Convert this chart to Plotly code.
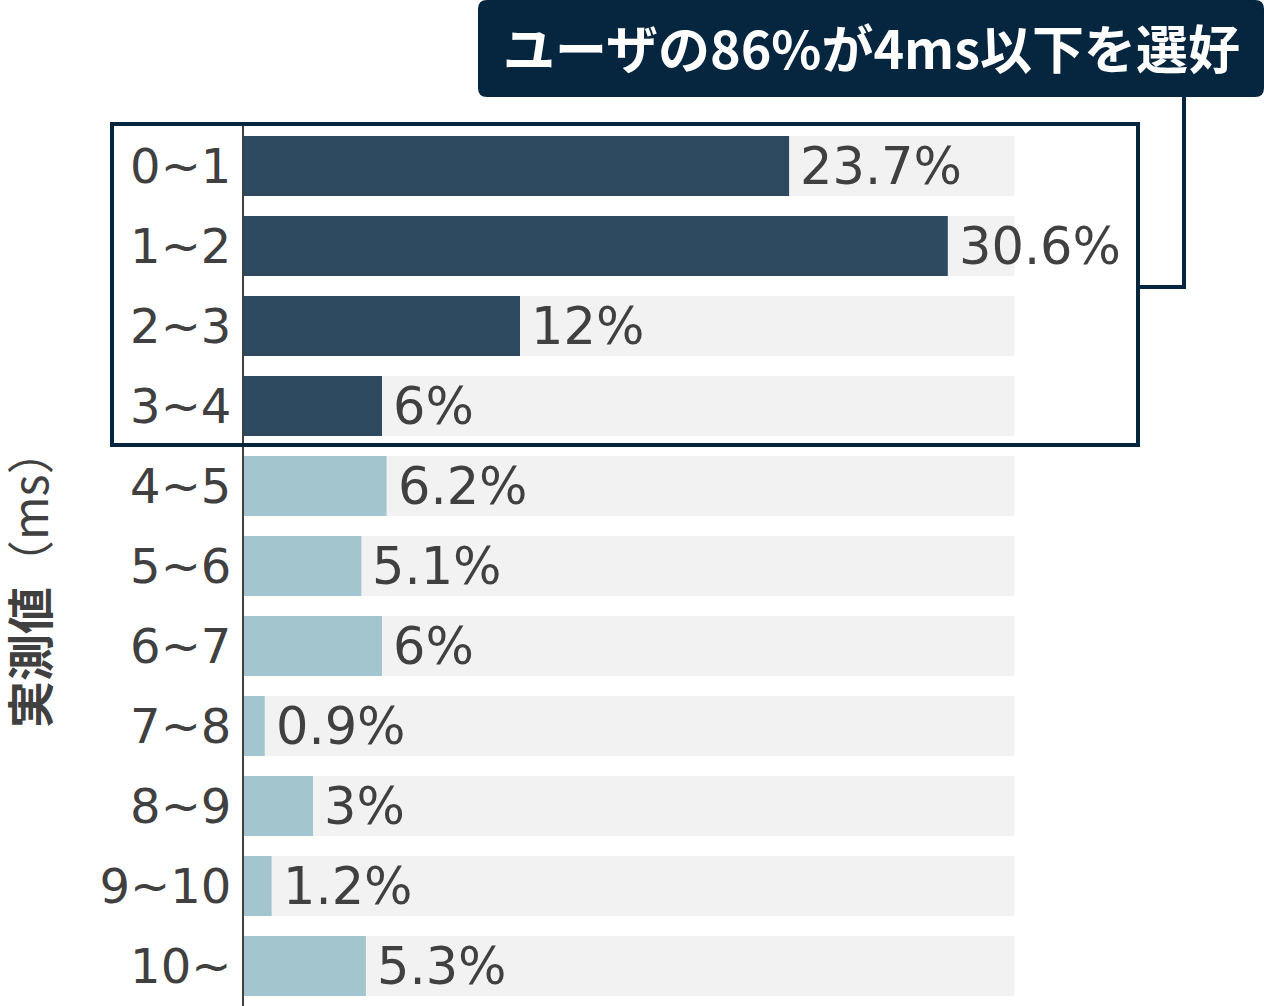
import plotly.graph_objects as go

# ---- data ----
categories = ["0~1", "1~2", "2~3", "3~4", "4~5", "5~6", "6~7", "7~8", "8~9", "9~10", "10~"]
values = [23.7, 30.6, 12, 6, 6.2, 5.1, 6, 0.9, 3, 1.2, 5.3]
value_labels = ["23.7%", "30.6%", "12%", "6%", "6.2%", "5.1%", "6%", "0.9%", "3%", "1.2%", "5.3%"]
highlighted = [True, True, True, True, False, False, False, False, False, False, False]
background_max = [33.5] * len(categories)
callout_text = "ユーザの86%が4ms以下を選好"
y_title_bold = "実測値"
y_title_rest = "（ms）"

# ---- styling / layout ----
W, H = 1264, 1006
ML, MR, MT, MB = 244, 0, 126, 0
PW, PH = W - ML - MR, H - MT - MB
PX_PER_UNIT = 23.0
NAVY = "#06263f"
DARK = "#2d4a60"
LIGHT = "#a3c5cd"
BG = "#f2f2f2"
TXT = "#404040"
FONT = "DejaVu Sans, Noto Sans CJK JP, sans-serif"


def px(x):
    return (x - ML) / PW


def py(y):
    return (H - MB - y) / PH


fig = go.Figure()
fig.add_trace(go.Bar(
    y=categories, x=background_max, orientation="h",
    marker=dict(color=BG, line=dict(width=0)), hoverinfo="skip", showlegend=False,
))
fig.add_trace(go.Bar(
    y=categories, x=values, orientation="h",
    marker=dict(color=[DARK if h else LIGHT for h in highlighted], line=dict(width=0)),
    showlegend=False,
))

annotations = []
for c, v, lab in zip(categories, values, value_labels):
    annotations.append(dict(
        x=v, y=c, xref="x", yref="y", text=lab, showarrow=False,
        xanchor="left", yanchor="middle", xshift=9,
        font=dict(family=FONT, size=51, color=TXT),
    ))

# y-axis title
annotations.append(dict(
    x=px(27), y=py(578), xref="paper", yref="paper",
    text=f"<b>{y_title_bold}</b>{y_title_rest}", textangle=-90, showarrow=False,
    xanchor="center", yanchor="middle",
    font=dict(family="Noto Sans CJK JP, sans-serif", size=47, color=TXT),
))

# callout text
annotations.append(dict(
    x=px(871), y=py(46), xref="paper", yref="paper",
    text=f"<b>{callout_text}</b>", showarrow=False,
    xanchor="center", yanchor="middle",
    font=dict(family="Noto Sans CJK JP, sans-serif", size=52, color="white"),
))

# rounded callout box path
x0, x1, y0, y1, r = 478, 1264, 0, 97, 9
pts = [
    ("M", x0 + r, y0), ("L", x1 - r, y0), ("Q", x1, y0, x1, y0 + r),
    ("L", x1, y1 - r), ("Q", x1, y1, x1 - r, y1), ("L", x0 + r, y1),
    ("Q", x0, y1, x0, y1 - r), ("L", x0, y0 + r), ("Q", x0, y0, x0 + r, y0),
]
path = ""
for p in pts:
    if p[0] == "Q":
        path += f"Q{px(p[1])},{py(p[2])} {px(p[3])},{py(p[4])} "
    else:
        path += f"{p[0]}{px(p[1])},{py(p[2])} "
path += "Z"

shapes = [
    dict(type="path", xref="paper", yref="paper", path=path,
         fillcolor=NAVY, line=dict(width=0), layer="above"),
    # highlight rectangle
    dict(type="rect", xref="paper", yref="paper",
         x0=px(112), x1=px(1138), y0=py(124), y1=py(445),
         line=dict(color=NAVY, width=4), fillcolor="rgba(0,0,0,0)", layer="above"),
    # connector
    dict(type="path", xref="paper", yref="paper",
         path=f"M{px(1184)},{py(96)} L{px(1184)},{py(287)} L{px(1138)},{py(287)}",
         line=dict(color=NAVY, width=4), layer="above"),
]

fig.update_layout(
    width=W, height=H,
    margin=dict(l=ML, r=MR, t=MT, b=MB, pad=0),
    paper_bgcolor="white", plot_bgcolor="white",
    barmode="overlay", bargap=0.25,
    font=dict(family=FONT, color=TXT),
    xaxis=dict(range=[0, PW / PX_PER_UNIT], visible=False, fixedrange=True),
    yaxis=dict(
        type="category", categoryorder="array", categoryarray=categories,
        range=[len(categories) - 0.5, -0.5],
        showline=True, linecolor=TXT, linewidth=2, showgrid=False, zeroline=False,
        ticks="", ticklabelstandoff=1,
        tickfont=dict(family=FONT, size=48, color=TXT),
    ),
    annotations=annotations,
    shapes=shapes,
)

fig.write_html("out.html")
